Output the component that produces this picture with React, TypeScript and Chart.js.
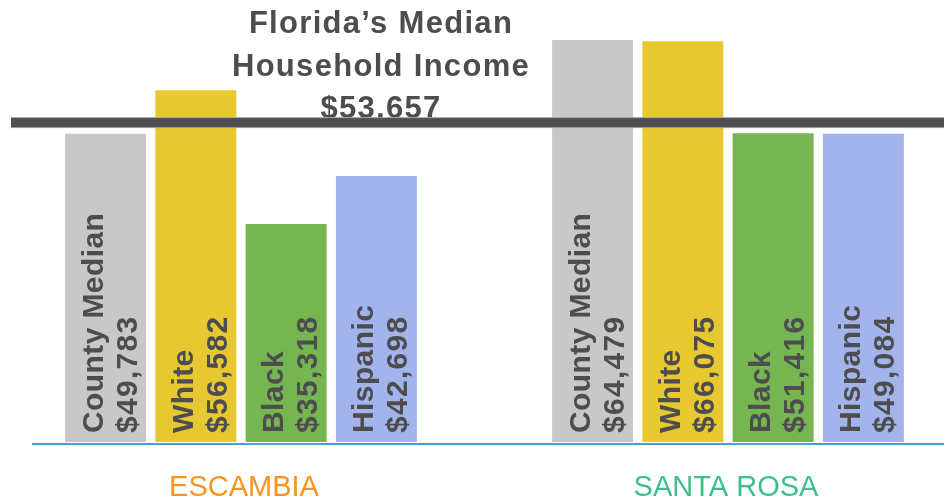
import { useEffect, useRef } from "react";
import { Chart, registerables } from "chart.js";

Chart.register(...registerables);

// ---- data ----
const counties = ["ESCAMBIA", "SANTA ROSA"];
const countyColors = ["#F7941D", "#3DBE8C"];
const groups = ["County Median", "White", "Black", "Hispanic"];
const groupColors = ["#C8C8C8", "#E8C830", "#76B651", "#A2B4EB"];
// bar heights as drawn in the picture
const escambiaBars = [49600, 56600, 35100, 42800];
const santaRosaBars = [64700, 64500, 49700, 49600];
// printed values
const escambiaLabels = ["$49,783", "$56,582", "$35,318", "$42,698"];
const santaRosaLabels = ["$64,479", "$66,075", "$51,416", "$49,084"];
const titleLines = ["Florida\u2019s Median", "Household Income", "$53,657"];
const floridaLineLevel = 51400;

const FONT = "'Liberation Sans', Arial, Helvetica, sans-serif";
const TEXT = "#4D4D4F";

const overlay = {
  id: "overlay",
  afterDatasetsDraw(chart: any) {
    const ctx: any = chart.ctx;
    const xs = chart.scales.x;
    const ys = chart.scales.y;
    const W = chart.width;
    ctx.save();

    // baseline
    const y0 = ys.getPixelForValue(0);
    ctx.fillStyle = "#4A9FD8";
    ctx.fillRect(32, y0 + 1, W - 32, 2);

    // title
    ctx.fillStyle = TEXT;
    ctx.font = `bold 31px ${FONT}`;
    ctx.letterSpacing = "1.3px";
    ctx.textAlign = "center";
    ctx.textBaseline = "alphabetic";
    titleLines.forEach((t, i) => ctx.fillText(t, 381, 33 + i * 42.5));

    // Florida median line
    const ly = ys.getPixelForValue(floridaLineLevel);
    ctx.fillStyle = "#A3A3A5";
    ctx.fillRect(11, ly - 5.5, W - 11, 11);
    ctx.fillStyle = "#4F4F51";
    ctx.fillRect(11, ly - 4.5, W - 11, 9);

    // labels inside bars
    const valueLabels = [escambiaLabels, santaRosaLabels];
    ctx.font = `bold 30px ${FONT}`;
    ctx.textAlign = "left";
    ctx.textBaseline = "alphabetic";
    ctx.fillStyle = TEXT;
    groups.forEach((g, di) => {
      const meta = chart.getDatasetMeta(di);
      meta.data.forEach((el: any, j: number) => {
        ctx.save();
        ctx.translate(el.x, el.base - 9);
        ctx.rotate(-Math.PI / 2);
        ctx.letterSpacing = "0.4px";
        ctx.fillText(g, 0, -3);
        ctx.letterSpacing = "1.3px";
        ctx.fillText(valueLabels[j][di], 0, 31);
        ctx.restore();
      });
    });

    // county labels
    ctx.letterSpacing = "0px";
    ctx.font = `29px ${FONT}`;
    ctx.textAlign = "center";
    counties.forEach((c, i) => {
      ctx.fillStyle = countyColors[i];
      ctx.fillText(c, xs.getPixelForValue(i) + (i === 0 ? 3 : -2), 496);
    });

    ctx.restore();
  },
};

export default function App() {
  const ref = useRef<HTMLCanvasElement>(null);
  useEffect(() => {
    if (!ref.current) return;
    const chart = new Chart(ref.current, {
      type: "bar",
      data: {
        labels: counties,
        datasets: groups.map((g, i) => ({
          label: g,
          data: [escambiaBars[i], santaRosaBars[i]],
          backgroundColor: groupColors[i],
          borderWidth: 0,
          clip: false as any,
          categoryPercentage: 0.7415,
          barPercentage: 0.897,
        })),
      },
      options: {
        responsive: false,
        animation: false,
        layout: { padding: { left: 241, right: 216, top: 7, bottom: 58 } },
        plugins: {
          legend: { display: false },
          tooltip: { enabled: false },
          title: { display: false },
        },
        scales: {
          x: { display: false, offset: false, grid: { display: false } },
          y: { display: false, min: 0, max: 70000 },
        },
      },
      plugins: [overlay],
    });
    return () => chart.destroy();
  }, []);
  return (
    <div style={{ position: "absolute", left: 0, top: 0, width: 944, height: 500, background: "#fff" }}>
      <canvas ref={ref} width={944} height={500} style={{ display: "block" }} />
    </div>
  );
}
